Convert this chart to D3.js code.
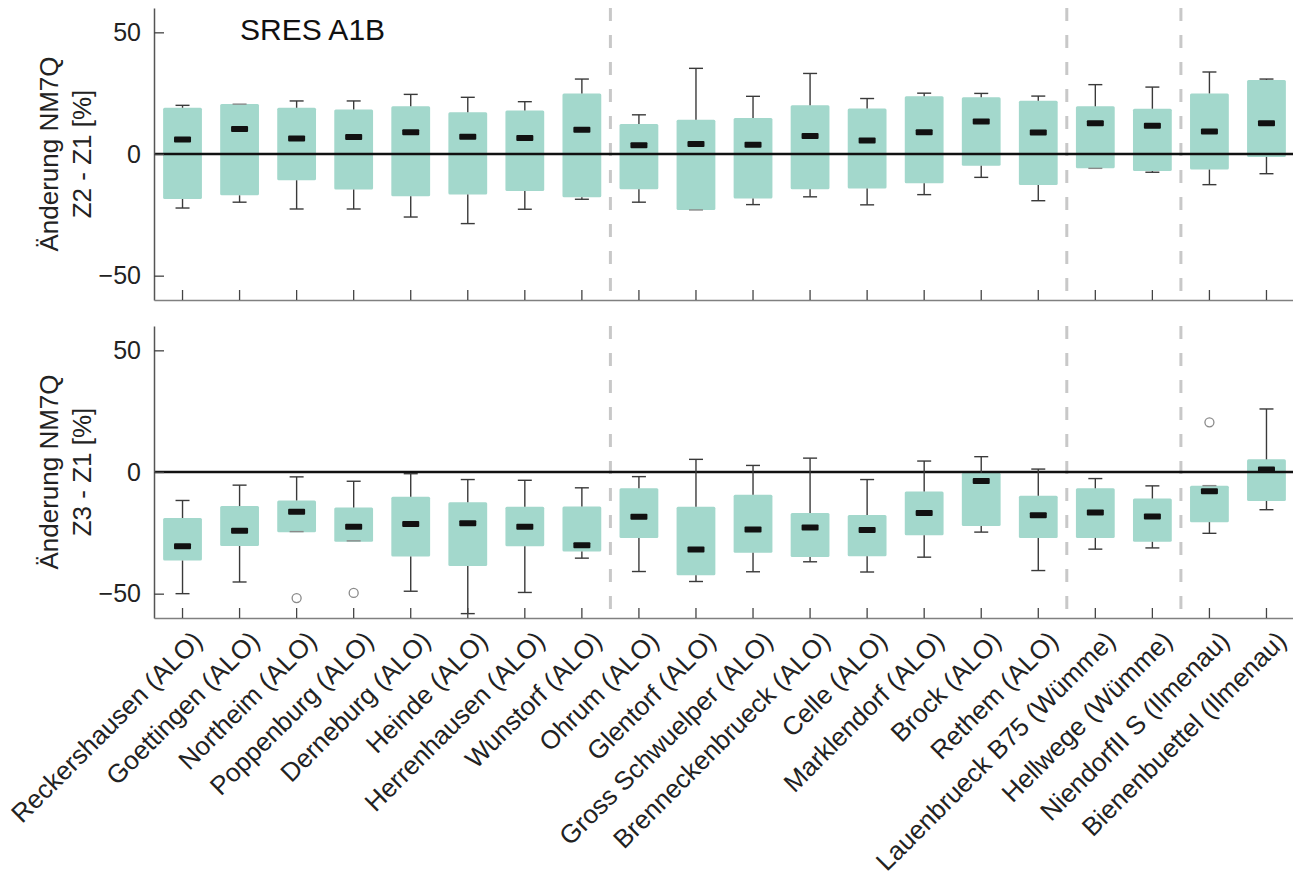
<!DOCTYPE html>
<html>
<head>
<meta charset="utf-8">
<script src="https://cdn.jsdelivr.net/npm/d3@7"></script>
<style>
  html, body { margin: 0; padding: 0; background: #fff; }
  svg { display: block; font-family: "Liberation Sans", Arial, sans-serif; }
</style>
</head>
<body>
<svg id="chart" width="1293" height="879"></svg>
<script>
// ---------------- DATA ----------------
const stations = [
  "Reckershausen (ALO)", "Goettingen (ALO)", "Northeim (ALO)", "Poppenburg (ALO)",
  "Derneburg (ALO)", "Heinde (ALO)", "Herrenhausen (ALO)", "Wunstorf (ALO)",
  "Ohrum (ALO)", "Glentorf (ALO)", "Gross Schwuelper (ALO)", "Brenneckenbrueck (ALO)",
  "Celle (ALO)", "Marklendorf (ALO)", "Brock (ALO)", "Rethem (ALO)",
  "Lauenbrueck B75 (Wümme)", "Hellwege (Wümme)", "NiendorfII S (Ilmenau)", "Bienenbuettel (Ilmenau)"
];
const yTicks = [-50, 0, 50];
const groupBreaksAfter = [7, 15, 17]; // index of last station in each river group

// Panel 1: Z2 - Z1
const z2Low    = [-22.2,-19.8,-22.6,-22.6,-25.9,-28.6,-22.7,-18.6,-19.8,-23.0,-20.8,-17.6,-20.9,-16.7,-9.6,-19.2,-5.9,-7.5,-12.6,-8.1];
const z2Q1     = [-18.5,-17.0,-10.8,-14.6,-17.4,-16.6,-15.2,-17.8,-14.5,-23.0,-18.3,-14.5,-14.2,-12.0,-4.8,-12.7,-5.9,-7.0,-6.4,-1.2];
const z2Median = [6.0,10.3,6.4,7.0,8.9,7.1,6.6,10.0,3.6,4.1,3.8,7.4,5.5,8.9,13.4,8.8,12.6,11.6,9.2,12.6];
const z2Q3     = [19.0,20.5,19.0,18.3,19.6,17.2,17.9,24.9,12.3,14.1,14.8,20.0,18.7,23.7,23.3,21.9,19.6,18.6,24.9,30.4];
const z2High   = [20.0,20.5,21.8,21.8,24.5,23.3,21.5,30.8,16.1,35.2,23.7,33.1,22.8,25.0,24.9,23.8,28.5,27.5,33.7,30.8];
const z2OutlierIdx = [];
const z2OutlierVal = [];

// Panel 2: Z3 - Z1
const z3Low    = [-50.0,-45.2,-24.5,-28.3,-49.0,-58.2,-49.5,-35.4,-40.9,-45.0,-41.0,-36.9,-41.1,-35.0,-24.7,-40.5,-31.7,-31.2,-25.2,-15.5];
const z3Q1     = [-36.4,-30.4,-24.8,-28.7,-34.7,-38.6,-30.5,-32.7,-27.1,-42.4,-33.2,-34.9,-34.6,-26.0,-22.2,-27.1,-27.1,-28.7,-20.6,-11.9];
const z3Median = [-30.5,-24.1,-16.3,-22.5,-21.4,-21.1,-22.5,-30.1,-18.4,-31.9,-23.6,-22.8,-23.8,-16.8,-3.7,-17.8,-16.6,-18.3,-7.9,1.0];
const z3Q3     = [-18.9,-14.0,-11.7,-14.6,-10.2,-12.4,-14.3,-14.2,-6.7,-14.3,-9.3,-16.9,-17.7,-8.0,-0.3,-9.8,-6.7,-10.9,-5.6,5.2];
const z3High   = [-11.7,-5.4,-2.0,-3.8,-0.7,-3.1,-3.4,-6.5,-1.9,5.2,2.7,5.7,-3.1,4.5,6.3,1.2,-2.7,-5.7,-5.6,25.9];
const z3OutlierIdx = [2, 3, 18];
const z3OutlierVal = [-51.8, -49.7, 20.4];

// ---------------- DRAW ----------------
const svg = d3.select("#chart");
const boxColor = "#a3d8cc";

const x = d3.scaleBand().domain(stations).range([154, 1295]).padding(0);
const step = x.step();
const boxW = step * 0.68;
const capW = 14;

function drawPanel(cfg) {
  const y = d3.scaleLinear().domain([-60, 60]).range([cfg.bottom, cfg.top]);
  const g = svg.append("g");
  const cx = i => x(stations[i]) + step / 2;

  // group separators
  groupBreaksAfter.forEach(b => {
    const xs = x(stations[b]) + step;
    g.append("line")
      .attr("x1", xs).attr("x2", xs)
      .attr("y1", cfg.top).attr("y2", cfg.bottom)
      .attr("stroke", "#c8c8c8").attr("stroke-width", 3)
      .attr("stroke-dasharray", "13,14");
  });

  // boxes
  stations.forEach((s, i) => {
    g.append("rect")
      .attr("x", cx(i) - boxW / 2)
      .attr("width", boxW)
      .attr("y", y(cfg.q3[i]))
      .attr("height", Math.max(1, y(cfg.q1[i]) - y(cfg.q3[i])))
      .attr("rx", 1.5)
      .attr("fill", boxColor);
  });

  // zero line
  g.append("line")
    .attr("x1", 154).attr("x2", 1293)
    .attr("y1", y(0)).attr("y2", y(0))
    .attr("stroke", "#111").attr("stroke-width", 2.5);

  // whiskers
  stations.forEach((s, i) => {
    const c = cx(i);
    const wg = g.append("g").attr("stroke", "#3a3a3a").attr("stroke-width", 1.4);
    if (cfg.high[i] > cfg.q3[i]) {
      wg.append("line").attr("x1", c).attr("x2", c).attr("y1", y(cfg.q3[i])).attr("y2", y(cfg.high[i]));
    }
    if (cfg.low[i] < cfg.q1[i]) {
      wg.append("line").attr("x1", c).attr("x2", c).attr("y1", y(cfg.q1[i])).attr("y2", y(cfg.low[i]));
    }
    wg.append("line").attr("x1", c - capW / 2).attr("x2", c + capW / 2).attr("y1", y(cfg.high[i])).attr("y2", y(cfg.high[i]))
      .attr("stroke", cfg.high[i] > cfg.q3[i] + 0.3 ? "#3a3a3a" : "#8a8a8a");
    wg.append("line").attr("x1", c - capW / 2).attr("x2", c + capW / 2).attr("y1", y(cfg.low[i])).attr("y2", y(cfg.low[i]))
      .attr("stroke", cfg.low[i] < cfg.q1[i] - 0.3 ? "#3a3a3a" : "#8a8a8a");
  });

  // medians
  stations.forEach((s, i) => {
    g.append("rect")
      .attr("x", cx(i) - 8.5).attr("width", 17)
      .attr("y", y(cfg.median[i]) - 3).attr("height", 6)
      .attr("rx", 1)
      .attr("fill", "#111");
  });

  // outliers
  cfg.outIdx.forEach((idx, k) => {
    g.append("circle")
      .attr("cx", cx(idx)).attr("cy", y(cfg.outVal[k]))
      .attr("r", 4.5)
      .attr("fill", "none").attr("stroke", "#8a8a8a").attr("stroke-width", 1.3);
  });

  // y axis
  const ya = g.append("g").attr("transform", "translate(154,0)")
    .call(d3.axisLeft(y).tickValues(yTicks).tickSize(-10).tickSizeOuter(0).tickPadding(13)
      .tickFormat(d3.format("d")));
  ya.select(".domain").attr("stroke", "#555").attr("stroke-width", 1.5);
  ya.selectAll(".tick line").attr("stroke", "#444").attr("stroke-width", 1.3);
  ya.selectAll(".tick text").attr("font-size", 25).attr("fill", "#222")
    .attr("font-family", "'Liberation Sans', Arial, sans-serif");

  // x axis
  const xa = g.append("g").attr("transform", `translate(0,${cfg.bottom})`)
    .call(d3.axisBottom(x).tickSize(-10).tickSizeOuter(0));
  xa.select(".domain").attr("stroke", "#808080").attr("stroke-width", 1.5);
  xa.selectAll(".tick line").attr("stroke", "#444").attr("stroke-width", 1.3);
  if (cfg.labels) {
    xa.selectAll(".tick text")
      .attr("font-size", 26).attr("fill", "#222")
      .attr("font-family", "'Liberation Sans', Arial, sans-serif")
      .attr("text-anchor", "end")
      .attr("y", 0).attr("dy", "0.35em")
      .attr("transform", "translate(15,18) rotate(-45)");
  } else {
    xa.selectAll(".tick text").remove();
  }

  // y title
  const yc = (cfg.top + cfg.bottom) / 2;
  g.append("text")
    .attr("transform", `translate(58,${yc}) rotate(-90)`)
    .attr("text-anchor", "middle").attr("font-size", 26).attr("fill", "#222")
    .text("Änderung NM7Q");
  g.append("text")
    .attr("transform", `translate(91,${yc}) rotate(-90)`)
    .attr("text-anchor", "middle").attr("font-size", 26).attr("fill", "#222")
    .text(cfg.ytitle);

  return y;
}

drawPanel({
  top: 8, bottom: 300, labels: false, ytitle: "Z2 - Z1 [%]",
  low: z2Low, q1: z2Q1, median: z2Median, q3: z2Q3, high: z2High,
  outIdx: z2OutlierIdx, outVal: z2OutlierVal
});
drawPanel({
  top: 326, bottom: 618, labels: true, ytitle: "Z3 - Z1 [%]",
  low: z3Low, q1: z3Q1, median: z3Median, q3: z3Q3, high: z3High,
  outIdx: z3OutlierIdx, outVal: z3OutlierVal
});

// title
svg.append("text")
  .attr("x", 240).attr("y", 40)
  .attr("font-size", 30).attr("fill", "#111")
  .text("SRES A1B");
</script>
</body>
</html>
